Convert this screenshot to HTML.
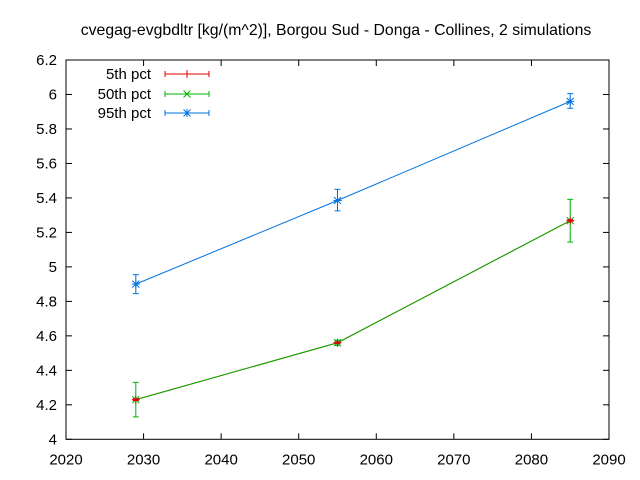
<!DOCTYPE html>
<html><head><meta charset="utf-8"><style>
html,body{margin:0;padding:0;background:#fff}
svg{display:block;font-family:"Liberation Sans",sans-serif}
</style></head><body>
<svg id="c" width="640" height="480" viewBox="0 0 640 480">
<text x="336" y="35" font-size="15.8" text-anchor="middle">cvegag-evgbdltr [kg/(m^2)], Borgou Sud - Donga - Collines, 2 simulations</text>
<g id="axes"></g><g id="lines"></g><g id="plot"></g><g id="legend"></g>
</svg>
<script>
const xTicks=[2020,2030,2040,2050,2060,2070,2080,2090];
const yTicks=[4,4.2,4.4,4.6,4.8,5,5.2,5.4,5.6,5.8,6,6.2];
const years=[2029,2055,2085];
const p5=[4.23,4.56,5.268];
const p5lo=[4.225,4.555,5.262];
const p5hi=[4.235,4.565,5.274];
const p50=[4.23,4.56,5.268];
const p50lo=[4.13,4.545,5.144];
const p50hi=[4.33,4.575,5.392];
const p95=[4.90,5.385,5.96];
const p95lo=[4.845,5.325,5.92];
const p95hi=[4.955,5.45,6.005];
const L=66,R=609,T=60,B=439.3;
const X=v=>L+(v-2020)/70*(R-L);
const Y=v=>B-(v-4)/2.2*(B-T);
const NS='http://www.w3.org/2000/svg';
function mk(p,tag,at){const e=document.createElementNS(NS,tag);for(const k in at)e.setAttribute(k,at[k]);p.appendChild(e);return e;}
const ax=document.getElementById('axes'),ll=document.getElementById('lines'),pl=document.getElementById('plot'),lg=document.getElementById('legend');
let fr=mk(ax,'rect',{x:L,y:T,width:R-L,height:B-T,fill:'none',stroke:'#000','stroke-width':1});


xTicks.forEach(t=>{const x=X(t);
mk(ax,'line',{x1:x,y1:B,x2:x,y2:B-6,stroke:'#000'});mk(ax,'line',{x1:x,y1:T,x2:x,y2:T+6,stroke:'#000'});
const tx=mk(ax,'text',{x:x,y:B+25,'font-size':15,'text-anchor':'middle'});tx.textContent=t;

});
yTicks.forEach(t=>{const y=Y(t);
mk(ax,'line',{x1:L,y1:y,x2:L+6,y2:y,stroke:'#000'});mk(ax,'line',{x1:R,y1:y,x2:R-6,y2:y,stroke:'#000'});
const tx=mk(ax,'text',{x:L-9,y:y+5,'font-size':15,'text-anchor':'end'});tx.textContent=String(Math.round(t*10)/10);

});
function pt(g,x,y,c,type){
 if(type==='plus'){mk(g,'line',{x1:x-4,y1:y,x2:x+4,y2:y,stroke:c});mk(g,'line',{x1:x,y1:y-4,x2:x,y2:y+4,stroke:c});}
 else if(type==='x'){mk(g,'line',{x1:x-3.5,y1:y-3.5,x2:x+3.5,y2:y+3.5,stroke:c});mk(g,'line',{x1:x-3.5,y1:y+3.5,x2:x+3.5,y2:y-3.5,stroke:c});}
 else {pt(g,x,y,c,'plus');pt(g,x,y,c,'x');}
}
const series=[{n:'5th pct',c:'#e00000',v:p5,lo:p5lo,hi:p5hi,t:'plus',ly:74,id:'p5'},
{n:'50th pct',c:'#00b000',v:p50,lo:p50lo,hi:p50hi,t:'x',ly:94,id:'p50'},
{n:'95th pct',c:'#0072e0',v:p95,lo:p95lo,hi:p95hi,t:'star',ly:113,id:'p95'}];
series.forEach(s=>{
 const d=years.map((yr,i)=>(i?'L':'M')+X(yr)+' '+Y(s.v[i])).join(' ');
 const ln=mk(ll,'path',{d:d,fill:'none',stroke:s.c,'stroke-width':1});
 
 
});
[series[2],series[1],series[0]].forEach(s=>{
 const g=mk(pl,'g',{});
 
 
 years.forEach((yr,i)=>{const x=X(yr);
  const eb=mk(g,'g',{});
  
  
  mk(eb,'line',{x1:x,y1:Y(s.lo[i]),x2:x,y2:Y(s.hi[i]),stroke:s.c});
  mk(eb,'line',{x1:x-3,y1:Y(s.lo[i]),x2:x+3,y2:Y(s.lo[i]),stroke:s.c});
  mk(eb,'line',{x1:x-3,y1:Y(s.hi[i]),x2:x+3,y2:Y(s.hi[i]),stroke:s.c});
  pt(eb,x,Y(s.v[i]),s.c,s.t);});
});
series.forEach(s=>{
 const e=mk(lg,'g',{});
 
 
 const tx=mk(e,'text',{x:151,y:s.ly+5,'font-size':15,'text-anchor':'end'});tx.textContent=s.n;
 mk(e,'line',{x1:165,y1:s.ly,x2:209,y2:s.ly,stroke:s.c});
 mk(e,'line',{x1:165,y1:s.ly-3,x2:165,y2:s.ly+3,stroke:s.c});
 mk(e,'line',{x1:209,y1:s.ly-3,x2:209,y2:s.ly+3,stroke:s.c});
 pt(e,187,s.ly,s.c,s.t);
});
</script>
</body></html>
